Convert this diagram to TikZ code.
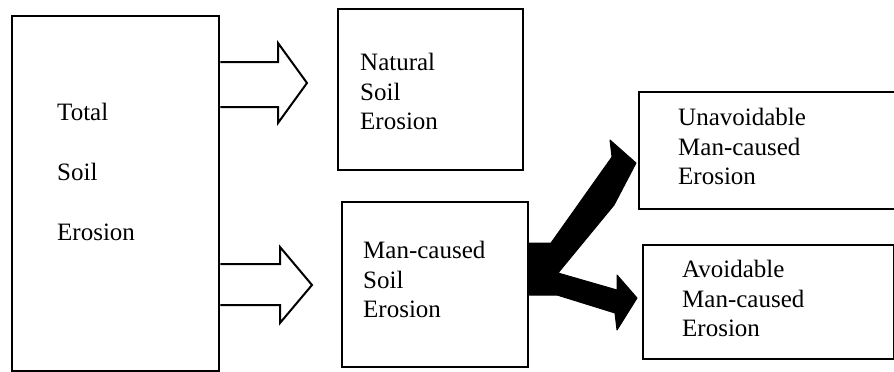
\documentclass[tikz,border=0pt]{standalone}
\usepackage{fontspec}
\setmainfont{Liberation Serif}
\begin{document}
\begin{tikzpicture}[x=1pt,y=-1pt,
  box/.style={draw, line width=2.6pt, inner sep=0pt},
  txt/.style={anchor=north west, inner sep=0pt, align=left, font=\fontsize{25}{29.5}\selectfont},
  hollow/.style={draw, line width=2pt, line join=miter},
  solidarrow/.style={fill=black, draw=black, line width=1pt, line join=round}]
\useasboundingbox (0,0) rectangle (894,372);
% boxes
\node[box, minimum width=207pt, minimum height=355pt] (total) at (115.5,193.5) {};
\node[box, minimum width=185pt, minimum height=161pt] (natural) at (430.5,89.5) {};
\node[box, minimum width=186pt, minimum height=165pt] (man) at (435,284.5) {};
\node[box, minimum width=256pt, minimum height=117pt] (unavoid) at (767,150.5) {};
\node[box, minimum width=251pt, minimum height=114pt] (avoid) at (768.5,302) {};
% texts
\node[txt, font=\fontsize{25}{60}\selectfont] (totaltxt) at (57,103) {Total\\Soil\\Erosion};
\node[txt] (naturaltxt) at (360,53) {Natural\\Soil\\Erosion};
\node[txt] (mantxt) at (363,241) {Man-caused\\Soil\\Erosion};
\node[txt] (unavoidtxt) at (678,108) {Unavoidable\\Man-caused\\Erosion};
\node[txt] (avoidtxt) at (682,260) {Avoidable\\Man-caused\\Erosion};
% hollow arrows
\draw[hollow] (total.east |- 0,62) -- (278,62) -- (278,43) -- (307,83) -- (278,123) -- (278,107) -- (total.east |- 0,107);
\draw[hollow] (total.east |- 0,264) -- (280,264) -- (280,247) -- (312,285) -- (280,323) -- (280,305) -- (total.east |- 0,305);
% solid split arrow
\filldraw[solidarrow] (man.east |- 0,243) -- (551,243) -- (612,157) -- (610,140) -- (636,163) -- (614,205)
  -- (558,273) -- (617,290) -- (617,275) -- (637,298) -- (617,330) -- (615,313)
  -- (557,295) -- (man.east |- 0,295) -- cycle;
\end{tikzpicture}
\end{document}
